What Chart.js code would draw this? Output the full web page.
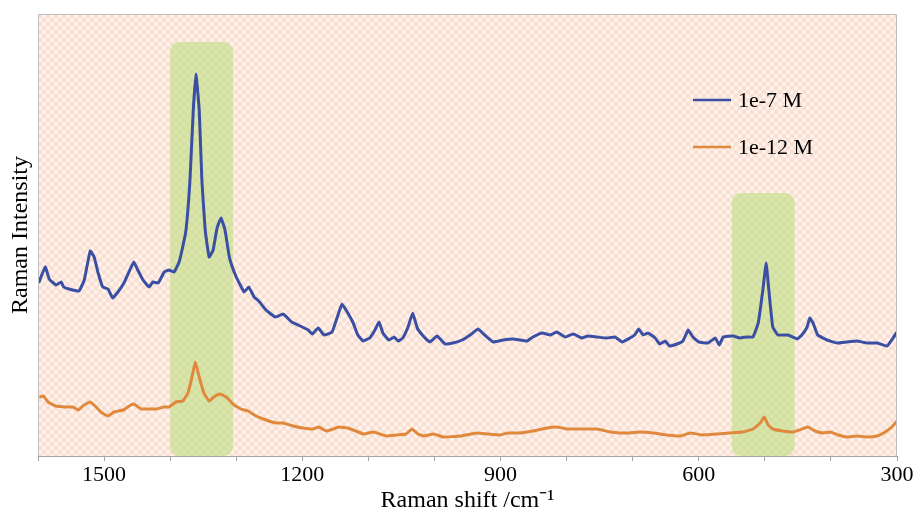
<!DOCTYPE html>
<html>
<head>
<meta charset="utf-8">
<title>Raman spectra</title>
<script src="https://cdn.jsdelivr.net/npm/chart.js@4/dist/chart.umd.min.js"></script>
<style>
    html, body { margin: 0; padding: 0; background: #ffffff; }
    #wrap { width: 920px; height: 515px; position: relative; }
</style>
</head>
<body>
<div id="wrap"><canvas id="ramanChart"></canvas></div>
<script>

/* =========================================
   DATA  (Raman shift cm-1, intensity a.u.)
========================================= */

const seriesLabels = ["1e-7 M", "1e-12 M"];

const shiftHigh = [
    1599, 1589, 1583, 1573, 1565, 1561, 1553, 1538, 1530, 1521, 1515, 1509, 1502, 1494, 1487, 1479,
    1470, 1461, 1455, 1449, 1441, 1432, 1426, 1418, 1409, 1402, 1394, 1387, 1382, 1376, 1370, 1365,
    1361, 1356, 1352, 1347, 1341, 1335, 1329, 1323, 1317, 1311, 1308, 1300, 1288, 1281, 1273, 1266,
    1255, 1241, 1229, 1216, 1200, 1191, 1185, 1176, 1167, 1155, 1147, 1140, 1132, 1123, 1116, 1108,
    1098, 1090, 1084, 1078, 1069, 1061, 1055, 1048, 1040, 1033, 1026, 1017, 1007, 996, 984, 972,
    958, 946, 934, 924, 911, 896, 881, 860, 851, 837, 825, 815, 802, 790, 777, 768,
    754, 739, 727, 716, 704, 697, 691, 684, 677, 666, 659, 651, 644, 633, 624, 616,
    609, 600, 586, 575, 569, 563, 548, 538, 527, 518, 510, 503, 498, 494, 488, 480,
    465, 451, 444, 436, 432, 427, 420, 406, 391, 376, 361, 345, 330, 315, 306, 300
];

const intensityHigh = [
    173, 189, 177, 171, 174, 169, 167, 165, 176, 205, 199, 183, 169, 167, 158, 164,
    173, 186, 194, 186, 176, 169, 174, 173, 184, 186, 184, 193, 206, 226, 276, 346,
    382, 346, 276, 226, 199, 206, 228, 238, 226, 201, 193, 179, 164, 169, 159, 155,
    146, 139, 142, 134, 129, 126, 122, 128, 121, 124, 139, 152, 144, 133, 121, 115,
    118, 126, 134, 123, 116, 119, 115, 118, 129, 143, 128, 120, 114, 120, 112, 113,
    116, 121, 127, 121, 114, 116, 117, 115, 119, 123, 121, 124, 119, 122, 118, 120,
    119, 118, 119, 114, 118, 121, 127, 121, 123, 118, 112, 115, 110, 112, 115, 126,
    119, 114, 113, 118, 111, 119, 120, 118, 119, 119, 133, 166, 193, 166, 129, 121,
    121, 117, 121, 129, 138, 133, 121, 116, 113, 114, 115, 113, 113, 110, 118, 124
];

const shiftLow = [
    1598, 1592, 1585, 1573, 1558, 1547, 1539, 1532, 1521, 1512, 1505, 1494, 1485, 1471, 1462, 1455,
    1444, 1434, 1421, 1409, 1402, 1391, 1381, 1373, 1367, 1362, 1356, 1349, 1341, 1334, 1325, 1315,
    1305, 1293, 1282, 1270, 1255, 1240, 1229, 1214, 1199, 1184, 1175, 1164, 1153, 1145, 1131, 1119,
    1107, 1092, 1073, 1058, 1043, 1034, 1025, 1016, 1001, 987, 961, 936, 920, 901, 889, 871,
    851, 830, 815, 799, 780, 754, 734, 719, 709, 689, 669, 648, 628, 613, 594, 572,
    553, 533, 518, 507, 501, 495, 488, 473, 457, 444, 435, 424, 412, 401, 389, 376,
    361, 345, 330, 318, 308, 300
];

const intensityLow = [
    59, 60, 54, 50, 49, 49, 46, 50, 54, 49, 44, 40, 44, 46, 50, 52,
    47, 47, 47, 49, 49, 54, 55, 63, 79, 94, 79, 63, 55, 59, 62, 59,
    52, 47, 45, 40, 36, 33, 33, 30, 28, 27, 29, 25, 27, 29, 28, 25,
    22, 24, 20, 21, 22, 27, 22, 20, 22, 19, 20, 23, 22, 21, 23, 23,
    25, 28, 29, 27, 27, 27, 24, 23, 23, 24, 23, 21, 20, 23, 21, 22,
    23, 24, 27, 33, 39, 31, 27, 25, 24, 27, 29, 25, 23, 24, 21, 19,
    20, 19, 20, 24, 29, 35
];

// highlighted bands: shift range and band top (intensity units)
const bandFrom = [1400, 550];
const bandTo = [1305, 455];
const bandTop = [414, 263];

const xTicksLabelled = [1500, 1200, 900, 600, 300];


/* =========================================
   HELPERS
========================================= */

function toPoints(xs, ys) {
    return xs.map((x, i) => ({ x: x, y: ys[i] }));
}

let patternCache = null;

function makePattern(ctx) {

    if (patternCache) return patternCache;

    const tile = document.createElement("canvas");
    tile.width = 8;
    tile.height = 8;
    const t = tile.getContext("2d");

    t.fillStyle = "#fff8f4";
    t.fillRect(0, 0, 8, 8);

    t.fillStyle = "#f9e0d2";
    [[0, 0], [8, 0], [0, 8], [8, 8], [4, 4]].forEach(p => {
        t.beginPath();
        t.arc(p[0], p[1], 2.6, 0, Math.PI * 2);
        t.fill();
    });

    patternCache = ctx.createPattern(tile, "repeat");
    return patternCache;
}


/* =========================================
   DECORATION PLUGIN
========================================= */

const decor = {

    id: "decor",

    beforeDraw(chart) {
        const { ctx, chartArea: a } = chart;
        ctx.save();
        ctx.fillStyle = makePattern(ctx);
        ctx.fillRect(a.left, a.top, a.right - a.left, a.bottom - a.top);
        ctx.restore();
    },

    beforeDatasetsDraw(chart) {

        const { ctx, chartArea: a, scales } = chart;

        ctx.save();
        ctx.fillStyle = "rgba(192, 222, 132, 0.62)";

        bandFrom.forEach((from, i) => {
            const x1 = scales.x.getPixelForValue(from);
            const x2 = scales.x.getPixelForValue(bandTo[i]);
            const top = scales.y.getPixelForValue(bandTop[i]);
            ctx.beginPath();
            ctx.roundRect(Math.min(x1, x2), top, Math.abs(x2 - x1), a.bottom - top, 9);
            ctx.fill();
        });

        ctx.restore();
    },

    afterDraw(chart) {

        const { ctx, chartArea: a } = chart;

        ctx.save();

        // frame
        ctx.strokeStyle = "#bdbdbd";
        ctx.lineWidth = 1;
        ctx.beginPath();
        ctx.moveTo(a.left + 0.5, a.bottom);
        ctx.lineTo(a.left + 0.5, a.top + 0.5);
        ctx.lineTo(a.right - 0.5, a.top + 0.5);
        ctx.lineTo(a.right - 0.5, a.bottom);
        ctx.stroke();

        // legend
        ctx.font = "22px 'Liberation Serif'";
        ctx.textBaseline = "middle";
        ctx.fillStyle = "#000000";

        chart.data.datasets.forEach((ds, i) => {
            const y = a.top + 86 + i * 47;
            const x = a.left + 655;
            ctx.strokeStyle = ds.borderColor;
            ctx.lineWidth = 2.5;
            ctx.beginPath();
            ctx.moveTo(x, y);
            ctx.lineTo(x + 38, y);
            ctx.stroke();
            ctx.fillText(ds.label, x + 45, y + 1);
        });

        ctx.restore();
    }
};


/* =========================================
   CREATE CHART
========================================= */

const ctx = document.getElementById("ramanChart").getContext("2d");

const ramanChart = new Chart(ctx, {

    type: "line",

    data: {
        datasets: [
            {
                label: seriesLabels[0],
                data: toPoints(shiftHigh, intensityHigh),
                borderColor: "#3a4fa3",
                borderWidth: 3,
                pointRadius: 0,
                tension: 0.1
            },
            {
                label: seriesLabels[1],
                data: toPoints(shiftLow, intensityLow),
                borderColor: "#e0893c",
                borderWidth: 3,
                pointRadius: 0,
                tension: 0.1
            }
        ]
    },

    options: {

        responsive: true,
        maintainAspectRatio: false,
        animation: false,

        layout: {
            padding: { top: 14, right: 23, left: 0, bottom: 0 }
        },

        plugins: {
            legend: { display: false },
            tooltip: { enabled: false }
        },

        scales: {

            x: {
                type: "linear",
                reverse: true,
                min: 300,
                max: 1600,
                afterFit: s => { s.height = 59; },
                border: { display: true, color: "#a6a6a6", width: 1 },
                grid: {
                    drawOnChartArea: false,
                    drawTicks: true,
                    tickLength: 5,
                    color: "#a6a6a6"
                },
                ticks: {
                    stepSize: 100,
                    padding: 1,
                    maxRotation: 0,
                    autoSkip: false,
                    color: "#000000",
                    font: { family: "'Liberation Serif'", size: 22 },
                    callback: v => xTicksLabelled.includes(v) ? String(v) : ""
                },
                title: {
                    display: true,
                    text: "Raman shift /cm\u207B\u00B9",
                    color: "#000000",
                    padding: { top: 0, bottom: 0 },
                    font: { family: "'Liberation Serif'", size: 24 }
                }
            },

            y: {
                min: 0,
                max: 442,
                afterFit: s => { s.width = 38; },
                border: { display: false },
                grid: { display: false },
                ticks: { display: false },
                title: {
                    display: true,
                    text: "Raman Intensity",
                    color: "#000000",
                    padding: { top: 6, bottom: 0 },
                    font: { family: "'Liberation Serif'", size: 24 }
                }
            }

        }

    },

    plugins: [decor]

});

</script>
</body>
</html>
